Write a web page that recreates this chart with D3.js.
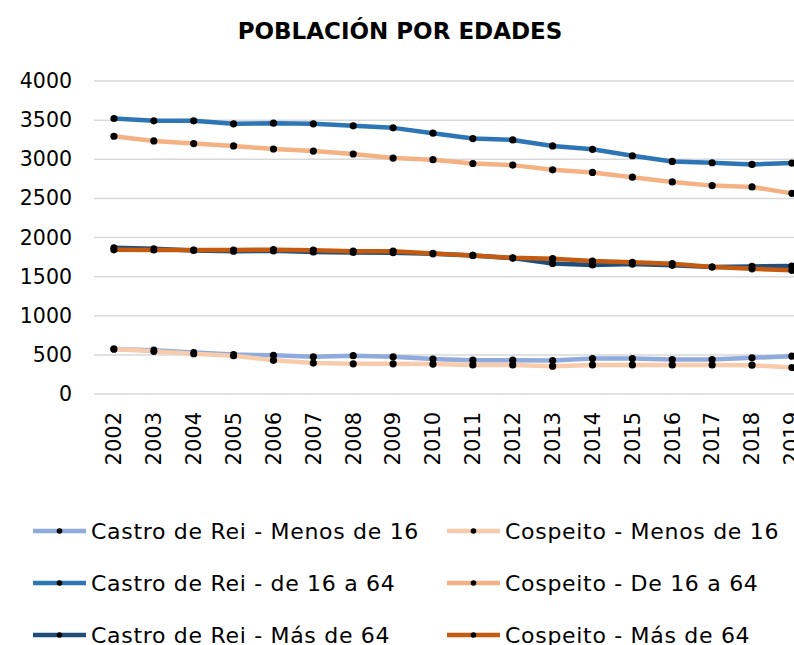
<!DOCTYPE html>
<html>
<head>
<meta charset="utf-8">
<script src="https://cdn.jsdelivr.net/npm/d3@7/dist/d3.min.js"></script>
<style>
  html, body { margin: 0; padding: 0; background: #fff; overflow: hidden; }
  svg { display: block; font-family: "DejaVu Sans", sans-serif; }
</style>
</head>
<body>
<svg id="chart" width="794" height="645"></svg>
<script>
// Years on the category axis
const years = ["2002","2003","2004","2005","2006","2007","2008","2009","2010",
               "2011","2012","2013","2014","2015","2016","2017","2018","2019"];

// Population by age group, one array per municipality and group
const castroMenos16 = [575, 560, 530, 505, 495, 475, 490, 475, 447, 432, 432, 428, 453, 453, 440, 440, 462, 483];
const cospeitoMenos16 = [575, 545, 515, 490, 430, 395, 385, 385, 383, 372, 372, 355, 372, 372, 372, 372, 368, 338];
const castro16a64 = [3521, 3491, 3491, 3453, 3461, 3453, 3427, 3401, 3333, 3264, 3247, 3170, 3127, 3045, 2972, 2955, 2934, 2951];
const cospeito16a64 = [3294, 3234, 3200, 3170, 3131, 3105, 3067, 3015, 2994, 2946, 2925, 2865, 2831, 2771, 2710, 2663, 2646, 2564];
const castroMas64 = [1868, 1855, 1835, 1825, 1830, 1815, 1808, 1805, 1792, 1771, 1737, 1668, 1650, 1660, 1645, 1623, 1630, 1635];
const cospeitoMas64 = [1842, 1840, 1840, 1840, 1845, 1838, 1825, 1825, 1797, 1771, 1740, 1730, 1700, 1683, 1665, 1623, 1600, 1580];

const yTicks = [0, 500, 1000, 1500, 2000, 2500, 3000, 3500, 4000];

const series = [
  { name: "Castro de Rei - Menos de 16", values: castroMenos16, color: "#8FAADC" },
  { name: "Cospeito - Menos de 16",      values: cospeitoMenos16, color: "#F8CBAD" },
  { name: "Castro de Rei - de 16 a 64",  values: castro16a64, color: "#2E75B6" },
  { name: "Cospeito - De 16 a 64",       values: cospeito16a64, color: "#F4B183" },
  { name: "Castro de Rei - Más de 64",   values: castroMas64, color: "#1F4E79" },
  { name: "Cospeito - Más de 64",        values: cospeitoMas64, color: "#C55A11" }
];

const svg = d3.select("#chart");

// Plot area: the category band continues past the right edge of the canvas
const plotLeft = 94, band = 39.88;
const x = d3.scaleBand().domain(years).range([plotLeft, plotLeft + band * years.length]);
const y = d3.scaleLinear().domain([0, 4000]).range([394, 81]);

// Title
svg.append("text")
  .attr("x", 400).attr("y", 39)
  .attr("text-anchor", "middle")
  .attr("font-size", 23).attr("font-weight", "bold")
  .attr("fill", "#000")
  .text("POBLACIÓN POR EDADES");

// Horizontal gridlines
svg.append("g")
  .selectAll("line").data(yTicks).join("line")
  .attr("x1", plotLeft).attr("x2", 820)
  .attr("y1", d => y(d)).attr("y2", d => y(d))
  .attr("stroke", "#D9D9D9").attr("stroke-width", 1.5);

// Y axis labels
const yAxis = d3.axisLeft(y).tickValues(yTicks).tickFormat(d3.format("d")).tickSize(0).tickPadding(0);
svg.append("g")
  .attr("transform", "translate(72,0)")
  .call(yAxis)
  .call(g => g.select(".domain").remove())
  .call(g => g.selectAll("text")
    .attr("font-family", "DejaVu Sans, sans-serif")
    .attr("font-size", 20.5).attr("fill", "#000"));

// X axis labels, rotated
const xAxis = d3.axisBottom(x).tickSize(0).tickPadding(0);
svg.append("g")
  .attr("transform", "translate(0,412)")
  .call(xAxis)
  .call(g => g.select(".domain").remove())
  .call(g => g.selectAll("text")
    .attr("font-family", "DejaVu Sans, sans-serif")
    .attr("font-size", 21).attr("fill", "#000")
    .attr("text-anchor", "end")
    .attr("transform", "rotate(-90)")
    .attr("x", 0).attr("y", 0).attr("dy", "0.35em"));

// Series lines and markers
const cx = i => x(years[i]) + x.bandwidth() / 2;
const line = d3.line().x((d, i) => cx(i)).y(d => y(d));

const drawOrder = [2, 3, 4, 5, 0, 1];
drawOrder.forEach(k => {
  const s = series[k];
  const g = svg.append("g");
  g.append("path")
    .attr("d", line(s.values))
    .attr("fill", "none")
    .attr("stroke", s.color)
    .attr("stroke-width", 4.5)
    .attr("stroke-linejoin", "round");
  g.selectAll("circle").data(s.values).join("circle")
    .attr("cx", (d, i) => cx(i))
    .attr("cy", d => y(d))
    .attr("r", 3.6)
    .attr("fill", "#000");
});

// Legend: two columns, three rows
const legend = svg.append("g");
series.forEach((s, i) => {
  const col = i % 2, row = Math.floor(i / 2);
  const lx = col === 0 ? 33 : 447;
  const ly = 531 + row * 52;
  const item = legend.append("g").attr("transform", `translate(${lx},${ly})`);
  item.append("line")
    .attr("x1", 0).attr("x2", 53).attr("y1", 0).attr("y2", 0)
    .attr("stroke", s.color).attr("stroke-width", 4.5);
  item.append("circle").attr("cx", 26.5).attr("cy", 0).attr("r", 2.8).attr("fill", "#000");
  item.append("text")
    .attr("x", 58).attr("y", 0).attr("dy", "0.36em")
    .attr("font-size", 22).attr("letter-spacing", 0.7).attr("fill", "#000")
    .text(s.name);
});
</script>
</body>
</html>
